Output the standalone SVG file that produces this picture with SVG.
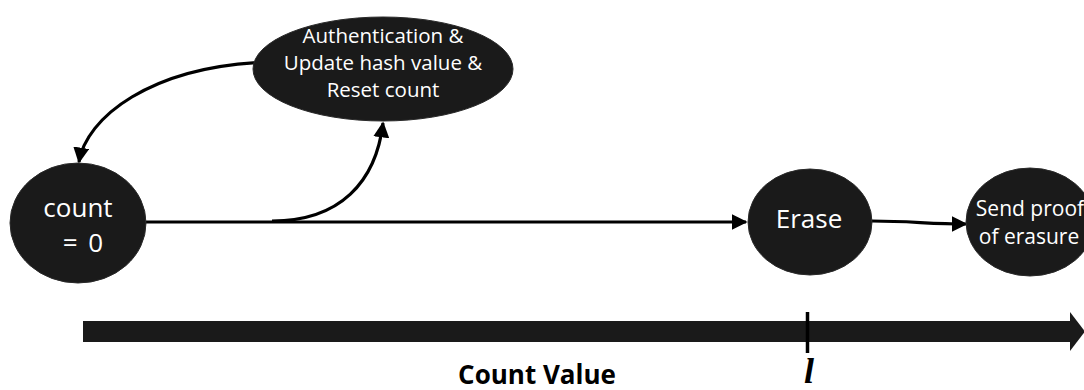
<svg xmlns="http://www.w3.org/2000/svg" width="1084" height="390" viewBox="0 0 1084 390">
  <defs>
    <style>
      .node { fill: #1a1a1a; stroke: #2a2a2a; stroke-width: 1; }
      .lbl { fill: #ffffff; font-family: "Open Sans", "Noto Sans", sans-serif; text-anchor: middle; }
      .edge { fill: none; stroke: #000000; stroke-width: 3.2; }
    </style>
    <marker id="arrow" viewBox="0 0 10 10" refX="9" refY="5" markerWidth="5" markerHeight="5" markerUnits="strokeWidth" orient="auto">
      <path d="M0,0 L10,5 L0,10 Z" fill="#000000"/>
    </marker>
  </defs>

  <rect width="1084" height="390" fill="#ffffff"/>

  <!-- connectors -->
  <g id="connectors">
    <path class="edge" d="M268,62 C150,66 86,118 79,162" marker-end="url(#arrow)"/>
    <path class="edge" d="M272,221 C340,221 376,182 383,123" marker-end="url(#arrow)"/>
    <path class="edge" d="M146,222 L746,222" marker-end="url(#arrow)"/>
    <path class="edge" d="M872,221 C910,221 930,224 966,224" marker-end="url(#arrow)"/>
  </g>

  <!-- nodes -->
  <g id="node-count">
    <ellipse class="node" cx="78" cy="223" rx="68" ry="60"/>
    <text class="lbl" x="78" y="217" font-size="26">count</text>
    <text class="lbl" x="83" y="252" font-size="26" word-spacing="4">= 0</text>
  </g>

  <g id="node-auth">
    <ellipse class="node" cx="383" cy="69" rx="130" ry="52"/>
    <text class="lbl" x="383" y="43" font-size="20.5">Authentication &amp;</text>
    <text class="lbl" x="383" y="70" font-size="20.5">Update hash value &amp;</text>
    <text class="lbl" x="383" y="97" font-size="20.5">Reset count</text>
  </g>

  <g id="node-erase">
    <ellipse class="node" cx="810" cy="222" rx="62" ry="53"/>
    <text class="lbl" x="809" y="228" font-size="26">Erase</text>
  </g>

  <g id="node-proof">
    <ellipse class="node" cx="1030" cy="222" rx="64" ry="54"/>
    <text class="lbl" x="1030" y="216" font-size="21">Send proof</text>
    <text class="lbl" x="1029" y="244" font-size="21">of erasure</text>
  </g>

  <!-- count value axis -->
  <g id="axis">
    <rect x="83" y="321" width="988" height="21" fill="#1a1a1a"/>
    <polygon points="1070,312 1085,331.5 1070,351" fill="#1a1a1a"/>
    <line x1="807.5" y1="312" x2="807.5" y2="353" stroke="#000000" stroke-width="3.5"/>
    <text x="537" y="384" font-size="26" font-weight="bold" text-anchor="middle" fill="#000000" font-family="Open Sans, Noto Sans, sans-serif">Count Value</text>
    <text x="809" y="383" font-size="36" font-weight="bold" font-style="italic" text-anchor="middle" fill="#000000" font-family="Liberation Serif, serif">l</text>
  </g>
</svg>
